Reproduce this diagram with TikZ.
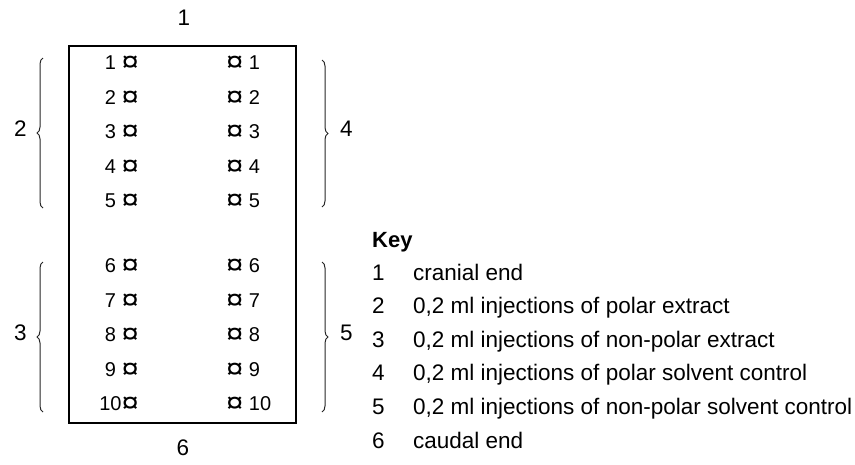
\documentclass[tikz,border=0pt]{standalone}
\usepackage{fontspec}
\setmainfont{Liberation Sans}
\usetikzlibrary{decorations.pathreplacing}

% injection-site mark
\newcommand{\sitemark}{\raisebox{-0.1em}{\scalebox{1.55}[1.4]{¤}}}

\tikzset{
  site/.style={font=\fontsize{20}{20}\selectfont, inner sep=0pt, text height=0.72em, text depth=0pt},
  refnum/.style={font=\fontsize{22.5}{22.5}\selectfont, inner sep=0pt, text height=0.72em, text depth=0pt},
  keytext/.style={font=\fontsize{22.5}{22.5}\selectfont, inner sep=0pt, text height=0.72em, text depth=0pt, anchor=west},
  bracket/.style={decorate, decoration={brace, amplitude=6pt}, line width=1pt, draw=black!85},
  body/.style={draw, line width=2pt}
}

\begin{document}
\begin{tikzpicture}[x=1pt, y=-1pt]
  \useasboundingbox (0,0) rectangle (855,464);

  % animal back outline
  \node[body, minimum width=227pt, minimum height=377pt, inner sep=0pt] (back) at (182.5,234.5) {};

  % ends
  \node[refnum] (cranial) at (184,22) {1};
  \node[refnum] (caudal) at (183,452) {6};

  % injection sites, left and right columns
  \foreach \n/\y in {1/66,2/100.5,3/135,4/169.5,5/204,6/269,7/303.5,8/338,9/372.5} {
    \node[site, anchor=east] (L\n) at (139,\y) {\n\ \sitemark};
    \node[site, anchor=west] (R\n) at (226,\y) {\sitemark\ \n};
  }
  \node[site, anchor=east] (L10) at (139,407) {10\sitemark};
  \node[site, anchor=west] (R10) at (226,407) {\sitemark\ 10};

  % groups of sites
  \coordinate (lb1) at (43,208);  \coordinate (lt1) at (43,58);
  \coordinate (lb2) at (43,412);  \coordinate (lt2) at (43,262);
  \coordinate (rt1) at (322,60);  \coordinate (rb1) at (322,207);
  \coordinate (rt2) at (322,262); \coordinate (rb2) at (322,412);
  \draw[bracket] (lb1) -- (lt1);
  \draw[bracket] (lb2) -- (lt2);
  \draw[bracket] (rt1) -- (rb1);
  \draw[bracket] (rt2) -- (rb2);

  \node[refnum] (g2) at (20.5,132.5) {2};
  \node[refnum] (g3) at (20.5,337) {3};
  \node[refnum] (g4) at (346.5,132.5) {4};
  \node[refnum] (g5) at (346.5,337) {5};

  % key
  \node[keytext, font=\fontsize{22}{22}\selectfont\bfseries] (key) at (372,244) {Key};
  \foreach \n/\y/\t in {1/276.5/{cranial end},
                        2/310.1/{0,2 ml injections of polar extract},
                        3/343.7/{0,2 ml injections of non-polar extract},
                        4/377.3/{0,2 ml injections of polar solvent control},
                        5/410.9/{0,2 ml injections of non-polar solvent control},
                        6/444.5/{caudal end}} {
    \node[keytext] (kn\n) at (372,\y) {\n};
    \node[keytext] (kt\n) at (413,\y) {\t};
  }
\end{tikzpicture}
\end{document}
